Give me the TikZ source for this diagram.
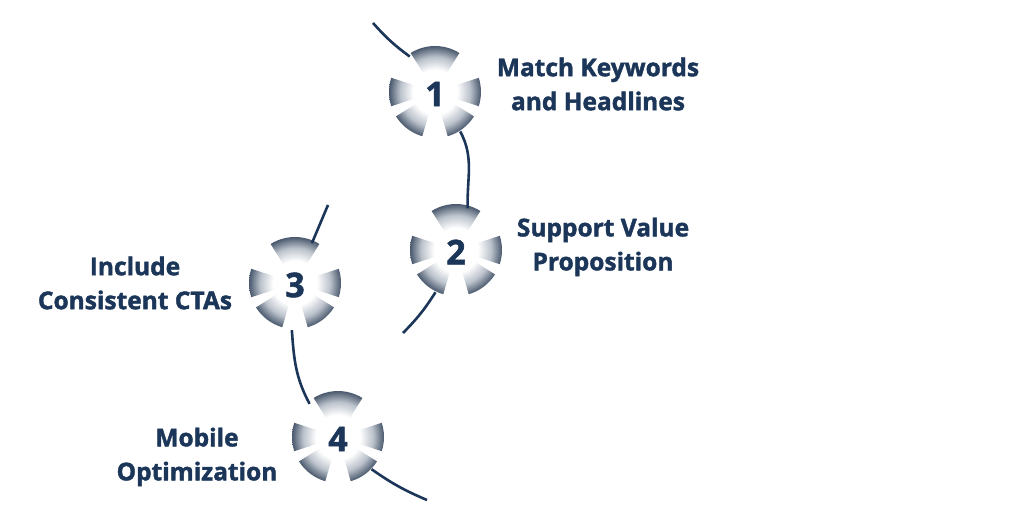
\documentclass[tikz,border=0pt]{standalone}
\usepackage{fontspec}
\setmainfont{Open Sans}[BoldFeatures={FakeBold=1.6}]
\usetikzlibrary{calc}
\definecolor{navy}{HTML}{1B3658}
\definecolor{petaldark}{HTML}{4A596E}
\definecolor{petalmid}{HTML}{BCC3CC}
\pgfdeclareradialshading{petal}{\pgfpointorigin}{color(0bp)=(white); color(12bp)=(white); color(19bp)=(petalmid); color(25bp)=(petaldark); color(50bp)=(petaldark)}
\tikzset{
  marker/.style={circle, minimum size=90pt, inner sep=0pt, font=\bfseries\fontsize{34}{34}\selectfont, text=navy},
  label/.style={align=center, font=\bfseries\fontsize{24.5}{34}\selectfont, text=navy},
  conn/.style={draw=navy, line width=2.6pt},
}
\newcommand{\petals}[1]{%
  \begin{scope}[shift={(#1)}]
    \begin{scope}
      \clip (58:12pt) -- (58:46pt) arc[start angle=58,end angle=122,radius=46pt] -- (122:12pt) arc[start angle=122,end angle=58,radius=12pt] -- cycle
            (162:12pt) -- (162:46pt) arc[start angle=162,end angle=198,radius=46pt] -- (198:12pt) arc[start angle=198,end angle=162,radius=12pt] -- cycle
            (-18:12pt) -- (-18:46pt) arc[start angle=-18,end angle=18,radius=46pt] -- (18:12pt) arc[start angle=18,end angle=-18,radius=12pt] -- cycle
            (212:12pt) -- (212:46pt) arc[start angle=212,end angle=254,radius=46pt] -- (254:12pt) arc[start angle=254,end angle=212,radius=12pt] -- cycle
            (286:12pt) -- (286:46pt) arc[start angle=286,end angle=328,radius=46pt] -- (328:12pt) arc[start angle=328,end angle=286,radius=12pt] -- cycle;
      \shade[shading=petal] (0,0) circle (46pt);
    \end{scope}
  \end{scope}}
\begin{document}
\begin{tikzpicture}[x=1pt,y=1pt]
\useasboundingbox (0,0) rectangle (1024,531);
\fill[white] (0,0) rectangle (1024,531);
% petal shapes
\petals{435,439}
\petals{456,281}
\petals{295,248}
\petals{338,94}
% numbered nodes
\node[marker] (n1) at (435,437) {1};
\node[marker] (n2) at (456,279) {2};
\node[marker] (n3) at (295,246) {3};
\node[marker] (n4) at (338,92) {4};
% free ends
\coordinate (s1) at (373,508);
\coordinate (e2) at (403,198);
\coordinate (s3) at (328,326);
\coordinate (e4) at (427,31);
% connectors
\draw[conn] (s1) to[bend right=6] (n1.124);
\draw[conn] (n1.-56) to[out=-62,in=92] (n2.75);
\draw[conn] (n2.243) to[bend left=6] (e2);
\draw[conn] (s3) -- (n3.68);
\draw[conn] (n3.266) to[out=-86,in=118] (n4.129);
\draw[conn] (n4.-42) to[bend right=6] (e4);
% labels
\node[label] (t1) at (598,447) {Match Keywords\\and Headlines};
\node[label] (t2) at (603,284) {Support Value\\Proposition};
\node[label] (t3) at (135,248) {Include\\Consistent CTAs};
\node[label] (t4) at (197,74) {Mobile\\Optimization};
\end{tikzpicture}
\end{document}
